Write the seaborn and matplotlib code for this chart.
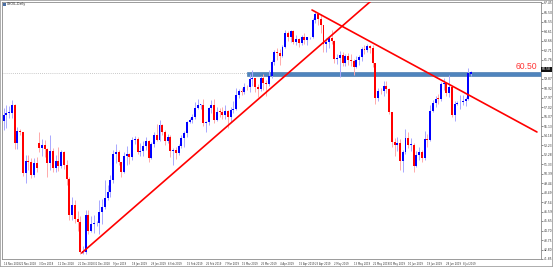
import matplotlib
matplotlib.use("Agg")
import matplotlib.pyplot as plt
import matplotlib.patches as mpatches
import numpy as np
import pandas as pd
import seaborn as sns

# ---------------- data (USOIL daily) ----------------
symbol_title = "USOIL,Daily"
start_date = "2018-11-13"

opens = [
    59.93, 55.69, 56.25, 56.46, 56.46, 57.20, 53.43, 54.63, 54.50, 50.42, 51.63, 51.56, 50.29, 51.45,
    53.40, 52.95, 53.25, 52.89, 51.49, 52.61, 51.00, 51.65, 51.15, 52.58, 51.20, 49.88, 46.24, 47.20, 45.88, 45.59, 42.53, 42.60, 46.22, 44.61, 45.33,
    45.41, 45.45, 46.54, 47.09, 47.96, 48.52, 49.78, 52.36, 52.59, 51.59, 50.51, 52.11, 52.31, 52.07, 53.80, 53.85, 52.57, 52.62, 53.13, 53.69, 51.99, 53.31, 54.23,
    53.79, 55.26, 54.56, 53.66, 54.01, 52.64, 52.72, 52.41, 53.10, 53.90, 54.41, 55.59, 55.80, 56.09, 56.92, 57.26, 57.26, 55.48, 55.50, 56.94,
    57.22, 55.80, 56.59, 56.56, 56.22, 56.66, 56.07, 56.79, 56.87, 58.26, 58.61, 58.52, 59.09, 59.03, 59.83, 59.98, 59.04, 58.82, 59.94, 59.41, 59.30,
    60.14, 61.59, 62.58, 62.46, 62.10, 63.08, 64.40, 64.05, 64.61, 63.58, 63.89, 63.40, 64.05, 63.76, 64.00, 64.00, 65.70, 66.30, 65.89, 65.21, 63.30, 63.50,
    63.91, 63.60, 61.81, 61.94, 62.25, 61.40, 62.12, 61.70, 61.66, 61.04, 61.78, 62.02, 62.87, 62.76, 63.10, 62.99, 61.42, 57.91, 58.63, 58.60, 59.14, 58.81, 56.59,
    53.50, 53.25, 53.48, 51.68, 52.59, 53.99, 53.26, 53.27, 51.14, 52.28, 52.51, 51.93, 53.90, 53.76, 56.65, 57.43, 57.90, 57.83, 59.38, 59.43,
    58.47, 59.09, 56.25, 57.34, 57.50, 57.51, 57.66, 57.83, 60.30,
]
closes = [
    55.69, 56.25, 56.46, 56.46, 57.20, 53.43, 54.63, 54.50, 50.42, 51.63, 51.56, 50.29, 51.45, 50.93,
    52.95, 53.25, 52.89, 51.49, 52.61, 51.00, 51.65, 51.15, 52.58, 51.20, 49.88, 46.24, 47.20, 45.88, 45.59, 42.53, 42.60, 46.22, 44.61, 45.33, 45.41,
    45.45, 46.54, 47.09, 47.96, 48.52, 49.78, 52.36, 52.59, 51.59, 50.51, 52.11, 52.31, 52.07, 53.80, 53.85, 52.57, 52.62, 53.13, 53.69, 51.99, 53.31, 54.23, 53.79,
    55.26, 54.56, 53.66, 54.01, 52.64, 52.72, 52.41, 53.10, 53.90, 54.41, 55.59, 55.80, 56.09, 56.92, 57.26, 57.26, 55.48, 55.50, 56.94, 57.22,
    55.80, 56.59, 56.56, 56.22, 56.66, 56.07, 56.79, 56.87, 58.26, 58.61, 58.52, 59.09, 59.03, 59.83, 59.98, 59.04, 58.82, 59.94, 59.41, 59.30, 60.14,
    61.59, 62.58, 62.46, 62.10, 63.08, 64.40, 64.05, 64.61, 63.58, 63.89, 63.40, 64.05, 63.76, 64.00, 64.00, 65.70, 66.30, 65.89, 65.21, 63.30, 63.50, 63.91,
    63.60, 61.81, 61.94, 62.25, 61.40, 62.12, 61.70, 61.66, 61.04, 61.78, 62.02, 62.87, 62.76, 63.10, 62.99, 61.42, 57.91, 58.63, 58.60, 59.14, 58.81, 56.59, 53.50,
    53.25, 53.48, 51.68, 52.59, 53.99, 53.26, 53.27, 51.14, 52.28, 52.51, 51.93, 53.90, 53.76, 56.65, 57.43, 57.90, 57.83, 59.38, 59.43, 58.47,
    59.09, 56.25, 57.34, 57.50, 57.51, 57.66, 57.83, 60.43, 60.55,
]
highs = [
    60.08, 56.94, 57.30, 57.20, 57.80, 57.38, 55.10, 54.90, 54.55, 52.25, 52.30, 52.00, 51.97, 52.10,
    54.55, 53.85, 53.80, 53.00, 54.22, 52.98, 52.30, 53.10, 52.79, 52.70, 51.79, 50.06, 48.07, 47.77, 46.62, 46.18, 43.20, 46.72, 46.80, 46.18, 46.30,
    45.70, 47.78, 47.90, 49.79, 49.25, 50.26, 52.75, 53.31, 52.74, 51.60, 52.51, 53.12, 52.46, 54.03, 54.15, 54.05, 53.49, 53.65, 54.10, 53.80, 53.59, 54.53, 55.37,
    55.75, 55.37, 54.80, 54.33, 54.22, 52.95, 53.05, 53.39, 54.25, 54.64, 55.70, 56.00, 56.33, 57.55, 57.81, 57.40, 57.88, 55.70, 57.08, 57.78,
    57.88, 57.09, 57.00, 57.05, 57.28, 56.78, 57.02, 57.70, 58.95, 58.82, 58.98, 59.44, 59.23, 60.39, 60.73, 60.00, 59.35, 60.12, 60.35, 59.71, 60.73,
    61.75, 62.77, 63.00, 62.86, 63.27, 64.79, 64.67, 64.75, 64.80, 64.21, 63.97, 64.29, 64.46, 64.08, 64.10, 65.92, 66.60, 66.45, 66.36, 65.22, 63.99, 64.02,
    64.77, 63.75, 62.33, 62.69, 62.55, 62.38, 62.43, 62.36, 61.90, 62.14, 62.28, 63.04, 63.30, 63.36, 63.28, 63.28, 61.46, 58.93, 58.94, 59.70, 59.61, 58.96, 56.60,
    54.00, 54.04, 53.89, 52.80, 54.84, 54.55, 53.93, 53.47, 52.70, 53.06, 52.73, 54.62, 54.36, 57.30, 57.76, 58.20, 58.36, 59.57, 59.93, 59.58,
    60.28, 59.18, 57.68, 57.70, 58.21, 58.25, 58.07, 60.94, 60.70,
]
lows = [
    55.12, 54.75, 55.00, 56.00, 55.92, 52.90, 52.85, 54.30, 50.15, 49.41, 50.80, 50.00, 50.10, 50.60,
    52.60, 52.20, 52.10, 50.08, 50.75, 50.60, 50.57, 50.63, 51.00, 50.90, 49.26, 45.79, 45.76, 45.46, 44.68, 42.36, 42.40, 42.40, 44.35, 44.60, 44.45,
    45.20, 44.35, 45.35, 46.90, 47.77, 48.10, 49.46, 51.45, 51.25, 50.03, 50.49, 51.25, 51.35, 51.77, 53.40, 52.39, 52.12, 52.18, 52.80, 51.60, 51.89, 53.08, 53.61,
    53.65, 54.30, 53.22, 53.44, 52.10, 51.23, 51.90, 52.25, 52.95, 53.05, 54.10, 55.50, 55.43, 55.90, 56.86, 56.85, 55.17, 54.52, 55.25, 56.50,
    55.42, 55.61, 56.02, 55.84, 55.86, 55.00, 55.59, 56.50, 56.80, 57.93, 58.26, 58.37, 58.72, 58.60, 59.20, 58.56, 58.10, 58.70, 58.74, 58.20, 59.20,
    60.00, 61.25, 61.77, 61.28, 62.01, 63.00, 63.67, 63.60, 63.31, 63.30, 63.08, 63.27, 63.37, 63.23, 63.90, 63.95, 65.50, 65.30, 64.50, 62.60, 62.58, 62.99,
    63.35, 61.46, 61.32, 60.04, 61.13, 61.11, 61.30, 61.16, 60.28, 60.94, 61.24, 61.69, 62.37, 62.59, 62.41, 61.08, 57.33, 57.70, 58.40, 58.14, 58.43, 56.40, 53.04,
    52.16, 52.66, 50.72, 50.60, 52.35, 52.95, 52.65, 50.60, 51.05, 51.80, 51.55, 51.72, 53.10, 53.64, 56.54, 57.08, 57.32, 57.70, 58.74, 58.17,
    58.10, 56.07, 55.66, 57.25, 56.88, 57.26, 57.18, 57.73, 60.20,
]

# horizontal zone and level
zone_label = "60.50"
zone_level = 60.50
zone_low = 60.15
zone_high = 60.58
zone_start_date = "2019-03-19"
box_label = "60.58"

# trend lines (bar index, price)
support_idx = [29.5, 140.0]
support_price = [42.45, 68.75]
resist_idx = [113.8, 196.1]
resist_price = [66.75, 54.55]

# price-scale labels
ytick_top = 67.45
ytick_step = 0.948
ytick_count = 28

# ---------------- drawing ----------------
sns.set_style("white")
plt.rcParams["font.family"] = ["DejaVu Sans"]

n = len(closes)
dates = pd.bdate_range(start_date, periods=n)
df = pd.DataFrame({"date": dates, "open": opens, "high": highs, "low": lows, "close": closes})
df["idx"] = np.arange(n)
df["bull"] = df["close"] >= df["open"]

W, H = 553, 267
fig = plt.figure(figsize=(W / 100, H / 100), dpi=100)
fig.patch.set_facecolor("white")

px_per_bar = 2.733
left_px, right_px, top_px, bot_px = 2, 541, 1.5, 259
ax = fig.add_axes([left_px / W, (H - bot_px) / H, (right_px - left_px) / W, (bot_px - top_px) / H])
x0 = (left_px - 1) / px_per_bar
ax.set_xlim(x0, x0 + (right_px - left_px) / px_per_bar)
ax.set_ylim(41.85, 67.6)

# bid dotted line
ax.axhline(zone_level, color="#b8b8b8", lw=0.6, ls=(0, (1, 1.5)), zorder=1)

# zone band
zstart = int(np.searchsorted(dates, pd.Timestamp(zone_start_date)))
ax.fill_between([zstart, ax.get_xlim()[1]], zone_low, zone_high,
                facecolor="#4f84bd", edgecolor="#3b6fa8", lw=0.4, zorder=2)

# candles: wicks then bodies
wick_cols = np.where(df["bull"], "#a8a8ff", "#ffaaaa")
ax.vlines(df["idx"], df["low"], df["high"], colors=wick_cols, lw=0.7, zorder=3)
body_cols = np.where(df["bull"], "#0000ff", "#ff0000")
body_bottom = np.minimum(df["open"], df["close"])
body_h = np.maximum(np.abs(df["close"] - df["open"]), 0.06)
ax.bar(df["idx"], body_h, bottom=body_bottom, width=0.72, color=body_cols, linewidth=0, zorder=4)

# trend lines
sns.lineplot(x=support_idx, y=support_price, ax=ax, color="#ff0000", lw=1.2,
             estimator=None, sort=False, zorder=5)
sns.lineplot(x=resist_idx, y=resist_price, ax=ax, color="#ff0000", lw=1.2,
             estimator=None, sort=False, zorder=5)

# zone label
ax.text(resist_idx[1], zone_high + 0.05, zone_label, color="#ff3535", fontsize=6.2,
        family=["Liberation Sans", "DejaVu Sans"], ha="right", va="bottom", zorder=6)

# axes styling
for s in ax.spines.values():
    s.set_color("#8a8a8a")
    s.set_linewidth(0.6)
ax.yaxis.tick_right()
yt = [round(ytick_top - k * ytick_step, 2) for k in range(ytick_count)]
ax.set_yticks(yt)
# the highlighted price box takes the place of the label nearest to it
near = int(np.argmin([abs(v - zone_high) for v in yt]))
ax.set_yticklabels(["" if k == near else f"{v:.2f}" for k, v in enumerate(yt)])
ax.tick_params(axis="y", direction="out", length=1.5, width=0.4, labelsize=2.2,
               pad=0.8, colors="#333333")

label_px = [3 + 18.44 * k for k in range(26)]
xt = [int(round((p - 1) / px_per_bar)) for p in label_px]
xt = [min(max(i, 0), n - 1) for i in xt]
ax.set_xticks(xt)
ax.set_xticklabels([f"{dates[i].day} {dates[i]:%b %Y}" for i in xt], ha="left")
ax.tick_params(axis="x", direction="out", length=1.5, width=0.4, labelsize=1.85,
               pad=0.8, colors="#333333")
ax.set_xlabel("")
ax.set_ylabel("")
ax.grid(False)

# highlighted price box on the scale
ax.text(1.002, yt[near], box_label, transform=ax.get_yaxis_transform(), fontsize=2.2,
        color="white", ha="left", va="center", zorder=7,
        bbox=dict(boxstyle="square,pad=0.25", fc="#111111", ec="none"))

# title
fig.text(7 / W, 1 - 4.5 / H, symbol_title, fontsize=2.3, color="#222222", va="center", ha="left")
fig.patches.append(mpatches.Rectangle((3 / W, 1 - 6 / H), 3 / W, 3 / H, transform=fig.transFigure,
                                      fc="#4a6fa5", ec="none"))

# window frame
fig.patches.append(mpatches.Rectangle((0, 0), 1, 1, transform=fig.transFigure, fill=False,
                                      ec="#a0a0a0", lw=1.2))

fig.savefig("out.png", dpi=100)
